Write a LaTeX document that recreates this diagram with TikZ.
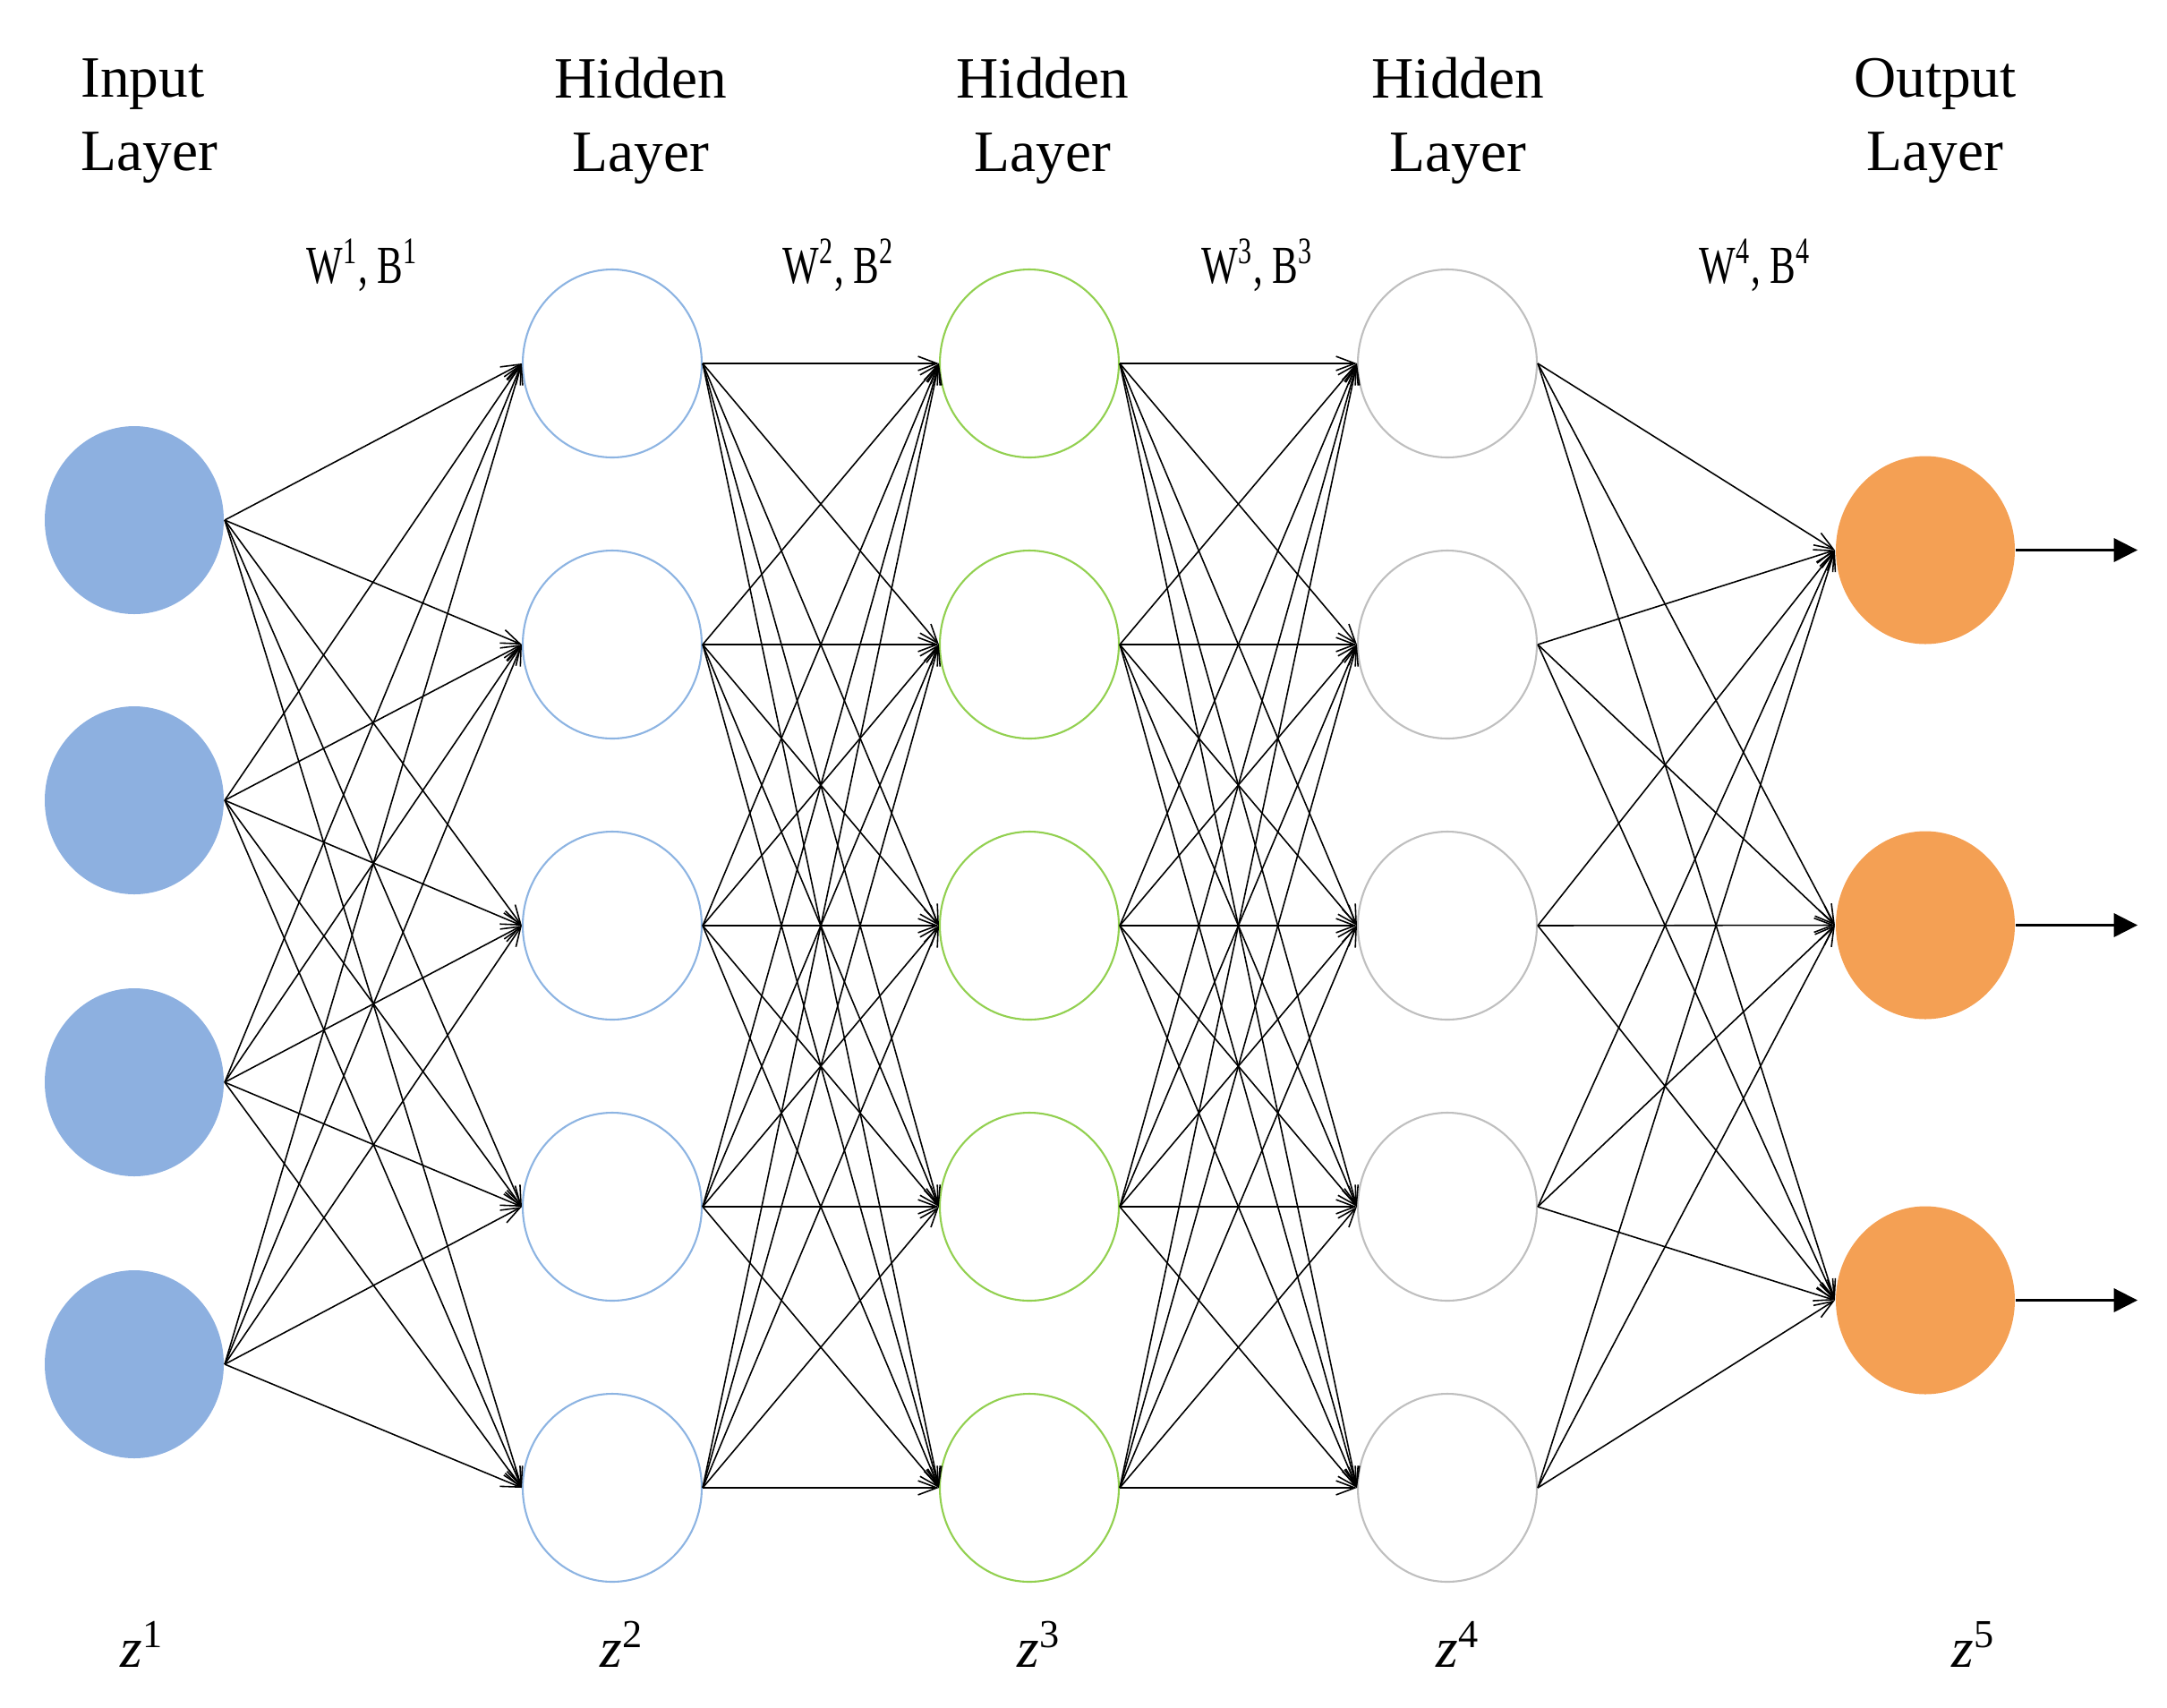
\documentclass[tikz,border=0pt]{standalone}
\usepackage{fontspec}
\setmainfont{Liberation Serif}
\newfontfamily\narrowfont[FakeStretch=0.72]{Liberation Serif}
\usetikzlibrary{shapes.geometric, arrows.meta, positioning}
\definecolor{inputblue}{RGB}{141,176,224}
\definecolor{hiddenblue}{RGB}{141,180,226}
\definecolor{hiddengreen}{RGB}{146,208,80}
\definecolor{hiddengray}{RGB}{191,191,191}
\definecolor{outputorange}{RGB}{244,160,84}

\begin{document}
\begin{tikzpicture}[
                y=-1cm,
                neuron/.style={ellipse, minimum width=2cm, minimum height=2.1cm, inner sep=0pt, line width=0.6pt},
                link/.style={-{Straight Barb[length=6pt, width=4.5pt]}, line width=0.45pt},
                title/.style={font=\fontsize{18.6}{23.5}\selectfont, align=center},
                weights/.style={font=\narrowfont\fontsize{17}{20}\selectfont},
                zlabel/.style={font=\fontsize{18}{20}\selectfont}
            ]
                \useasboundingbox (0,0) rectangle (24.21,19.07);

                % neurons
                \foreach \i/\y in {1/5.81, 2/8.94, 3/12.09, 4/15.24}
                    \node[neuron, fill=inputblue] (in\i) at (1.50,\y) {};
                \foreach \i in {1,...,5} {
                    \node[neuron, draw=hiddenblue] (ha\i) at (6.84, 0.92+3.14*\i) {};
                    \node[neuron, draw=hiddengreen] (hb\i) at (11.50, 0.92+3.14*\i) {};
                    \node[neuron, draw=hiddengray] (hc\i) at (16.17, 0.92+3.14*\i) {};
                }
                \foreach \i in {1,2,3}
                    \node[neuron, fill=outputorange] (out\i) at (21.51, 1.955+4.19*\i) {};

                % layer titles
                \node[title, align=left, anchor=west] (tin) at (0.78,1.35) {Input\\Layer};
                \node[title] (ta) at (7.16,1.35) {Hidden\\Layer};
                \node[title] (tb) at (11.65,1.35) {Hidden\\Layer};
                \node[title] (tc) at (16.29,1.35) {Hidden\\Layer};
                \node[title] (tout) at (21.62,1.35) {Output\\Layer};

                % weights
                \node[weights] (w1) at (4.05,2.96) {W\textsuperscript{1}, B\textsuperscript{1}};
                \node[weights] (w2) at (9.37,2.96) {W\textsuperscript{2}, B\textsuperscript{2}};
                \node[weights] (w3) at (14.05,2.96) {W\textsuperscript{3}, B\textsuperscript{3}};
                \node[weights] (w4) at (19.61,2.96) {W\textsuperscript{4}, B\textsuperscript{4}};

                % z labels
                \node[zlabel] (z1) at (1.59,18.37) {\textit{z}\textsuperscript{1}};
                \node[zlabel] (z2) at (6.95,18.37) {\textit{z}\textsuperscript{2}};
                \node[zlabel] (z3) at (11.61,18.37) {\textit{z}\textsuperscript{3}};
                \node[zlabel] (z4) at (16.29,18.37) {\textit{z}\textsuperscript{4}};
                \node[zlabel] (z5) at (22.05,18.37) {\textit{z}\textsuperscript{5}};

                % connections
                \foreach \i in {1,...,4}
                    \foreach \j in {1,...,5}
                        \draw[link] (in\i.east) -- (ha\j.west);
                \foreach \i in {1,...,5}
                    \foreach \j in {1,...,5} {
                        \draw[link] (ha\i.east) -- (hb\j.west);
                        \draw[link] (hb\i.east) -- (hc\j.west);
                    }
                \foreach \i in {1,...,5}
                    \foreach \j in {1,2,3}
                        \draw[link] (hc\i.east) -- (out\j.west);

                % outputs
                \foreach \i in {1,2,3} {
                    \coordinate[right=1.36cm of out\i.east] (y\i);
                    \draw[-{Triangle[length=7.5pt, width=7.5pt]}, line width=0.6pt] (out\i.east) -- (y\i);
                }
            \end{tikzpicture}
\end{document}
